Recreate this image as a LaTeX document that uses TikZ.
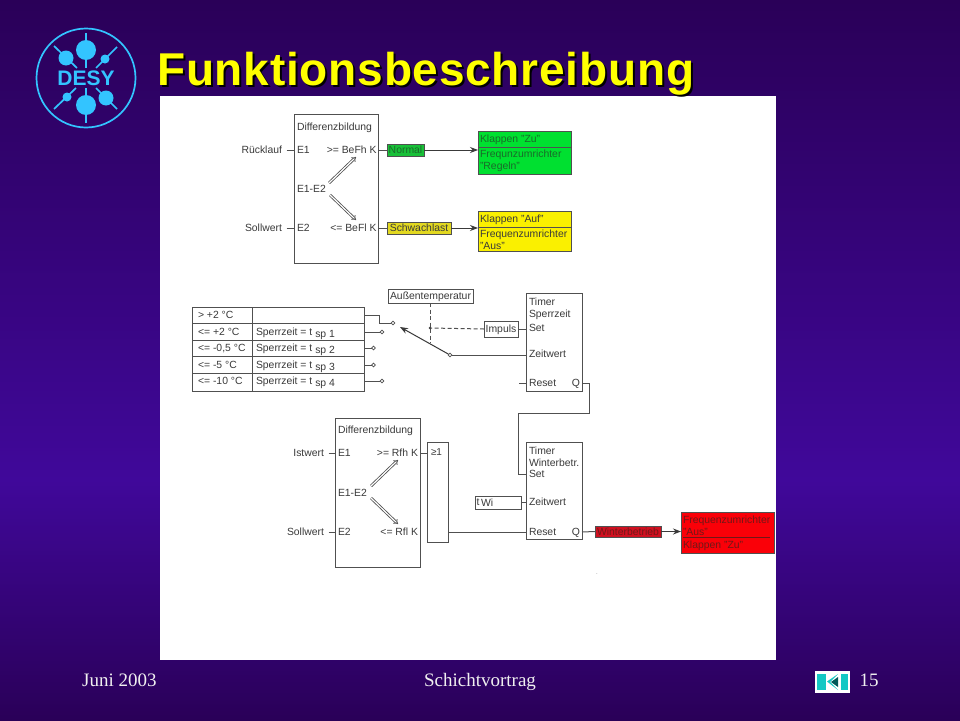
\documentclass[tikz,border=0pt]{standalone}
\usepackage{fontspec}
\setmainfont{Liberation Sans}
\newfontfamily\serifft{Liberation Serif}
\newfontfamily\titleft[LetterSpace=1.7]{Liberation Sans}
\usetikzlibrary{arrows.meta,calc}
\definecolor{bgdark}{HTML}{2A0058}
\definecolor{bgmid}{HTML}{40089A}
\definecolor{desyblue}{HTML}{33C4FF}
\definecolor{ink}{HTML}{3A3A3A}
\definecolor{linecol}{HTML}{505050}
\definecolor{titley}{HTML}{FFFF00}
\definecolor{grn}{HTML}{00E030}
\definecolor{grnd}{HTML}{18C038}
\definecolor{yel}{HTML}{FAF000}
\definecolor{yeld}{HTML}{E2D820}
\definecolor{rd}{HTML}{FA0008}
\definecolor{rdd}{HTML}{D01020}
\definecolor{rdink}{HTML}{701818}
\definecolor{kiteal}{HTML}{14C8C4}
\definecolor{grnink}{HTML}{1A6A2A}
\tikzset{
  boxst/.style={draw=linecol,line width=1pt,inner sep=0pt,outer sep=0pt,anchor=north west},
  lbl/.style={font=\fontsize{10.4}{12}\selectfont,text=ink,inner sep=0pt,outer sep=0pt,text height=9pt,text depth=2pt},
  lw/.style={lbl,anchor=west},
  le/.style={lbl,anchor=east},
  wire/.style={draw=linecol,line width=1pt},
  arrowwire/.style={draw=ink,line width=1pt,-{Stealth[length=8pt,width=6pt]}},
  dashwire/.style={wire,dash pattern=on 4pt off 2.5pt},
  dbl/.style={draw=linecol,line width=0.8pt,double=white,double distance=1.2pt,-{Implies}},
  term/.style={circle,draw=linecol,fill=white,line width=0.8pt,minimum size=3.8pt,inner sep=0pt,outer sep=0pt},
  logoline/.style={draw=desyblue,line width=1.7pt},
  logoball/.style={circle,fill=desyblue,inner sep=0pt},
  foot/.style={font=\serifft\fontsize{19}{22}\selectfont,text=white!94!black,inner sep=0pt},
  titlest/.style={font=\titleft\fontsize{46}{50}\selectfont\bfseries,inner sep=0pt,anchor=base west},
}
\newcommand\bx[6]{\node[boxst,minimum width=#4,minimum height=#5,#6] (#1) at (#2,#3) {};}
\begin{document}
\begin{tikzpicture}[x=1pt,y=-1pt]
\useasboundingbox (0,0) rectangle (960,720);
% background
\fill[top color=bgdark,bottom color=bgmid,draw=none] (0,0) rectangle (960,480);
\fill[top color=bgmid,bottom color=bgdark,draw=none] (0,480) rectangle (960,720);
\fill[white] (160,96) rectangle (776,660);
% logo
\draw[logoline] (86,78) circle (49.5);
\draw[logoline] (86,33) -- (86,68);
\draw[logoline] (86,88) -- (86,123);
\draw[logoline] (54,46) -- (77,68);
\draw[logoline] (117,47) -- (96,68);
\draw[logoline] (54,109) -- (76,88);
\draw[logoline] (117,109) -- (96,88);
\node[logoball,minimum size=20pt] (b1) at (86,50) {};
\node[logoball,minimum size=20pt] (b2) at (86,105) {};
\node[logoball,minimum size=15pt] (b3) at (66,58) {};
\node[logoball,minimum size=15pt] (b4) at (106,98) {};
\node[logoball,minimum size=9pt] (b5) at (105,59) {};
\node[logoball,minimum size=9pt] (b6) at (67,97) {};
\node[font=\fontsize{21}{24}\selectfont\bfseries,text=desyblue,inner sep=0pt] (desy) at (86,78) {DESY};
% title
\node[titlest,text=black] (titleshadow) at (159,87.8) {Funktionsbeschreibung};
\node[titlest,text=titley] (title) at (157,85.8) {Funktionsbeschreibung};
% footer
\node[foot,anchor=base west] (fdate) at (82,686.5) {Juni 2003};
\node[foot,anchor=base] (fname) at (480,686.5) {Schichtvortrag};
\node[foot,anchor=base] (fnum) at (869,686.5) {15};
% KI icon
\fill[white] (815,671) rectangle (850,693);
\fill[kiteal] (817,674) rectangle (826,690);
\fill[kiteal] (841,674) rectangle (848,690);
\fill[kiteal] (827,681.5) -- (838,674) -- (830,682) -- (838,690) -- cycle;
\fill[teal!70!black] (831,682) -- (838,677) -- (838,687) -- cycle;

% ===== block 1
\bx{d1}{294}{114}{84}{149}{}
\node[lw] (d1t) at (297,127) {Differenzbildung};
\node[lw] (d1e1) at (297,150) {E1};
\node[lw] (d1d) at (297,189) {E1-E2};
\node[lw] (d1e2) at (297,228) {E2};
\node[le] (d1h) at (376.5,150) {>= BeFh K};
\node[le] (d1l) at (376.5,228) {<= BeFl K};
\node[le] (rl) at (282,150) {Rücklauf};
\node[le] (sw1) at (282,228) {Sollwert};
\draw[wire] ($(rl.east)+(4.5,0)$) -- (rl -| d1.west);
\draw[wire] ($(sw1.east)+(4.5,0)$) -- (sw1 -| d1.west);
\coordinate (d1ua) at (329,183); \coordinate (d1ub) at (356,157);
\coordinate (d1la) at (330,195); \coordinate (d1lb) at (356,220);
\draw[dbl] (d1ua) -- (d1ub);
\draw[dbl] (d1la) -- (d1lb);
\node[boxst,fill=grnd,minimum width=37,minimum height=12] (normal) at (387,144) {};
\node[lbl,text=grnink,anchor=center] (normalt) at (normal.center) {Normal};
\node[boxst,fill=yeld,minimum width=64,minimum height=12] (schw) at (387,222) {};
\node[lbl,anchor=center] (schwt) at (schw.center) {Schwachlast};
\node[boxst,fill=grn,minimum width=93,minimum height=43] (kg) at (478,131) {};
\draw[wire] (478,147) -- (571,147);
\node[lw,text=grnink] (kg1) at (480,139) {Klappen "Zu"};
\node[lw,text=grnink] (kg2) at (480,154) {Frequnzumrichter};
\node[lw,text=grnink] (kg3) at (480,165.5) {"Regeln"};
\node[boxst,fill=yel,minimum width=93,minimum height=40] (ky) at (478,211) {};
\draw[wire] (478,227) -- (571,227);
\node[lw] (ky1) at (480,218.5) {Klappen "Auf"};
\node[lw] (ky2) at (480,233.5) {Frequenzumrichter};
\node[lw] (ky3) at (480,245.5) {"Aus"};
\draw[wire] (normal.west) -- (normal -| d1.east);
\draw[wire] (schw.west) -- (schw -| d1.east);
\draw[arrowwire] (normal.east) -- (normal -| kg.west);
\draw[arrowwire] (schw.east) -- (schw -| ky.west);

% ===== table
\bx{r1a}{192}{307}{60}{16}{}
\bx{r1b}{252}{307}{112}{16}{}
\bx{r2a}{192}{323}{60}{17}{}
\bx{r2b}{252}{323}{112}{17}{}
\bx{r3a}{192}{340}{60}{16}{}
\bx{r3b}{252}{340}{112}{16}{}
\bx{r4a}{192}{356}{60}{17}{}
\bx{r4b}{252}{356}{112}{17}{}
\bx{r5a}{192}{373}{60}{18}{}
\bx{r5b}{252}{373}{112}{18}{}
\node[lw] (t1) at (198,315) {> +2 °C};
\node[lw] (t2) at (198,332) {<= +2 °C};
\node[lw] (t3) at (198,348) {<= -0,5 °C};
\node[lw] (t4) at (198,365) {<= -5 °C};
\node[lw] (t5) at (198,381) {<= -10 °C};
\newcommand\spz[1]{Sperrzeit = t {\raisebox{-1.5pt}{sp #1}}}
\node[lw] (s2) at (256,332) {\spz{1}};
\node[lw] (s3) at (256,348) {\spz{2}};
\node[lw] (s4) at (256,365) {\spz{3}};
\node[lw] (s5) at (256,381) {\spz{4}};
\node[term] (p1) at (393,323) {};
\node[term] (p2) at (382,332) {};
\node[term] (p3) at (373.5,348) {};
\node[term] (p4) at (373.5,365) {};
\node[term] (p5) at (382,381) {};
\draw[wire] (r1b.east) -- (379,315) -- (379,323) -- (p1.west);
\draw[wire] (r2b.east |- p2) -- (p2.west);
\draw[wire] (r3b.east |- p3) -- (p3.west);
\draw[wire] (r4b.east |- p4) -- (p4.west);
\draw[wire] (r5b.east |- p5) -- (p5.west);

\node[boxst,minimum width=85,minimum height=14] (aus) at (388,289) {};
\node[lbl,anchor=center] (aust) at (aus.center) {Außentemperatur};
\node[boxst,minimum width=34,minimum height=16] (imp) at (484,321) {};
\node[lbl,anchor=center] (impt) at (imp.center) {Impuls};
\bx{tm1}{526}{293}{56}{98}{}
\node[lw] (tm1a) at (529,302) {Timer};
\node[lw] (tm1b) at (529,314) {Sperrzeit};
\node[lw] (tm1c) at (529,328) {Set};
\node[lw] (tm1d) at (529,354) {Zeitwert};
\node[lw] (tm1e) at (529,383) {Reset};
\node[le] (tm1q) at (580,383) {Q};
\node[term] (sw) at (450,355) {};
\coordinate (swtip) at (400,327);
\coordinate (dj) at (430,328);
\coordinate (dend) at (430,343);
\coordinate (rst1) at (519,383);
\draw[arrowwire] (sw) -- (swtip);
\draw[wire] (sw.east) -- (sw.east -| tm1.west);
\draw[dashwire] (aus.south -| dj) -- (dend);
\draw[dashwire] (imp.west) -- (dj);
\fill[ink] (dj) circle (1.3);
\draw[wire] (imp.east) -- (imp.east -| tm1.west);
\draw[wire] (rst1) -- (rst1 -| tm1.west);

% ===== block 2
\bx{d2}{335}{418}{85}{149}{}
\node[lw] (d2t) at (338,430) {Differenzbildung};
\node[lw] (d2e1) at (338,453) {E1};
\node[lw] (d2d) at (338,493) {E1-E2};
\node[lw] (d2e2) at (338,532) {E2};
\node[le] (d2h) at (418,453) {>= Rfh K};
\node[le] (d2l) at (418,532) {<= Rfl K};
\node[le] (ist) at (324,453) {Istwert};
\node[le] (sw2) at (324,532) {Sollwert};
\draw[wire] ($(ist.east)+(4.5,0)$) -- (ist -| d2.west);
\draw[wire] ($(sw2.east)+(4.5,0)$) -- (sw2 -| d2.west);
\coordinate (d2ua) at (371,486); \coordinate (d2ub) at (398,460);
\coordinate (d2la) at (371,498); \coordinate (d2lb) at (398,524);
\draw[dbl] (d2ua) -- (d2ub);
\draw[dbl] (d2la) -- (d2lb);
\bx{or}{427}{442}{21}{100}{}
\node[lw,font=\fontsize{10}{12}\selectfont] (ort) at (431,451.5) {≥1};
\draw[wire] (ist -| d2.east) -- (ist -| or.west);
\bx{tm2}{526}{442}{56}{97}{}
\node[lw] (tm2a) at (529,450.5) {Timer};
\node[lw] (tm2b) at (529,463) {Winterbetr.};
\node[lw] (tm2c) at (529,474) {Set};
\node[lw] (tm2d) at (529,502) {Zeitwert};
\node[lw] (tm2e) at (529,532) {Reset};
\node[le] (tm2q) at (580,532) {Q};
\node[boxst,minimum width=46,minimum height=13] (twi) at (475,496) {};
\node[lw] (twit) at (476.5,502) {t\,\raisebox{-1pt}{Wi}};
\draw[wire] (twi.east) -- (twi.east -| tm2.west);
\draw[wire] (sw2 -| or.east) -- (sw2 -| tm2.west);
\coordinate (qx) at (589,383);
\coordinate (qy) at (589,413);
\coordinate (lx) at (518,413);
\draw[wire] (tm1q -| tm1.east) -- (qx) -- (qy) -- (lx) -- (lx |- tm2c) -- (tm2c -| tm2.west);
\node[boxst,fill=rdd,minimum width=66,minimum height=11] (win) at (595,526) {};
\node[lbl,anchor=center,text=rdink] (wint) at (win.center) {Winterbetrieb};
\node[boxst,fill=rd,minimum width=93,minimum height=41] (kr) at (681,512) {};
\draw[draw=rdink,line width=0.8pt] (683,537) -- (770,537);
\node[lw,text=rdink] (kr1) at (683,520) {Frequenzumrichter};
\node[lw,text=rdink] (kr2) at (683,531.5) {"Aus"};
\node[lw,text=rdink] (kr3) at (683,545) {Klappen "Zu"};
\draw[wire] (tm2q -| tm2.east) -- (win.west);
\draw[arrowwire] (win.east) -- (win -| kr.west);
\node[font=\fontsize{6}{7}\selectfont,text=gray,inner sep=0pt] (stray) at (597,574) {.};
\end{tikzpicture}
\end{document}
